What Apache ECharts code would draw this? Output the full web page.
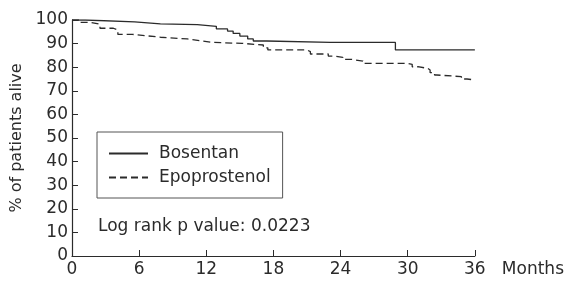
<!DOCTYPE html>
<html>
<head>
<meta charset="utf-8">
<script src="https://cdn.jsdelivr.net/npm/echarts@6/dist/echarts.min.js"></script>
<style>
  html, body { margin: 0; padding: 0; background: #fff; }
  #chart { width: 567px; height: 282px; }
</style>
</head>
<body>
<div id="chart"></div>
<script>
// Kaplan-Meier survival: [month, % alive from that month on]
const bosentanMonths = [0, 1.2, 5.6, 7.9, 11.2, 12.9, 13.9, 14.4, 15.0, 15.7, 16.2, 17.4, 23.1, 28.9, 36];
const bosentanAlive = [100, 99.2, 98.4, 98.0, 97.3, 96.2, 95.3, 94.3, 93.2, 92.0, 91.1, 90.5, 90.5, 87.3, 87.3];

const epoMonths = [0, 0.7, 1.6, 2.5, 3.7, 4.1, 5.4, 6.7, 7.9, 10.3, 11.4, 12.6, 15.2, 17.1, 17.5, 21.0, 21.3, 22.9, 23.5, 24.2, 25.0, 26.0, 30.0, 30.4, 30.9, 31.8, 32.0, 32.4, 32.6, 34.8, 35.3, 36];
const epoAlive = [100, 99.0, 98.2, 96.5, 95.8, 93.9, 93.3, 92.7, 92.0, 91.2, 90.5, 90.1, 89.4, 88.2, 87.3, 86.6, 85.6, 84.7, 84.2, 83.3, 82.6, 81.6, 81.2, 80.2, 79.5, 78.8, 77.7, 76.7, 76.0, 75.0, 74.6, 74.6];

const monthTicks = [0, 6, 12, 18, 24, 30, 36];

const font = 'DejaVu Sans';
const ink = '#2b2b2b';

const chart = echarts.init(document.getElementById('chart'));

const option = {
    animation: false,
    textStyle: { fontFamily: font, color: ink },
    grid: { left: 72, right: 92, top: 20, bottom: 26 },
    legend: {
        orient: 'vertical',
        left: 97,
        top: 132,
        padding: [13, 12, 12, 11],
        itemWidth: 39,
        itemHeight: 20,
        itemGap: 7,
        borderColor: '#555',
        borderWidth: 1,
        itemStyle: { opacity: 0 },
        textStyle: { fontFamily: font, fontSize: 17, color: ink, padding: [0, 0, 0, 6] },
        data: ['Bosentan', 'Epoprostenol']
    },
    title: {
        text: 'Log rank p value: 0.0223',
        left: 93,
        top: 213,
        textStyle: { fontFamily: font, fontSize: 17, fontWeight: 'normal', color: ink }
    },
    xAxis: {
        type: 'value',
        min: 0,
        max: 36,
        interval: 6,
        name: 'Months',
        nameLocation: 'end',
        nameGap: 27,
        nameTextStyle: { fontFamily: font, fontSize: 17, color: ink, align: 'left', verticalAlign: 'top', padding: [5, 0, 0, 0] },
        splitLine: { show: false },
        axisLine: { lineStyle: { color: ink, width: 1.2 } },
        axisTick: { inside: true, length: 6, lineStyle: { color: ink } },
        axisLabel: {
            fontFamily: font, fontSize: 17, color: ink, margin: 5,
            formatter: (v) => monthTicks.includes(v) ? String(v) : ''
        }
    },
    yAxis: {
        type: 'value',
        min: 0,
        max: 100,
        interval: 10,
        name: '% of patients alive',
        nameLocation: 'middle',
        nameGap: 42,
        nameTextStyle: { fontFamily: font, fontSize: 16, color: ink },
        splitLine: { show: false },
        axisLine: { show: true, lineStyle: { color: ink, width: 1.2 } },
        axisTick: { show: true, inside: true, length: 6, lineStyle: { color: ink } },
        axisLabel: { fontFamily: font, fontSize: 17, color: ink, margin: 4 }
    },
    series: [
        {
            name: 'Bosentan',
            type: 'line',
            step: 'end',
            symbol: 'none',
            lineStyle: { color: ink, width: 1.3, type: 'solid' },
            itemStyle: { color: ink },
            data: bosentanMonths.map((m, i) => [m, bosentanAlive[i]])
        },
        {
            name: 'Epoprostenol',
            type: 'line',
            step: 'end',
            symbol: 'none',
            lineStyle: { color: ink, width: 1.3, type: [7, 4] },
            itemStyle: { color: ink },
            data: epoMonths.map((m, i) => [m, epoAlive[i]])
        }
    ]
};

chart.setOption(option);
</script>
</body>
</html>
